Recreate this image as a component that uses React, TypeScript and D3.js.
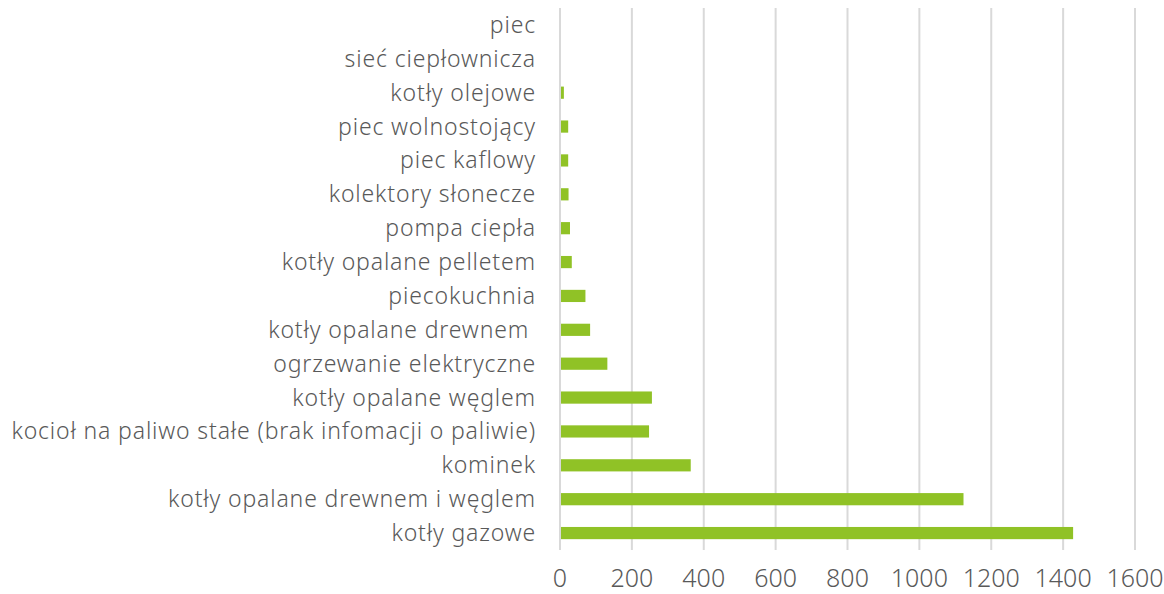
import React from 'react';
import * as d3 from 'd3';

// categories top -> bottom, as in the picture
const categories = [
  'piec',
  'sieć ciepłownicza',
  'kotły olejowe',
  'piec wolnostojący',
  'piec kaflowy',
  'kolektory słonecze',
  'pompa ciepła',
  'kotły opalane pelletem',
  'piecokuchnia',
  'kotły opalane drewnem ',
  'ogrzewanie elektryczne',
  'kotły opalane węglem',
  'kocioł na paliwo stałe (brak infomacji o paliwie)',
  'kominek',
  'kotły opalane drewnem i węglem',
  'kotły gazowe',
];
const values = [0, 0, 8, 20, 20, 21, 25, 30, 68, 81, 129, 253, 245, 361, 1120, 1425];
const xTicks = [0, 200, 400, 600, 800, 1000, 1200, 1400, 1600];

const W = 1164;
const H = 594;
const left = 560;
const right = 1135;
const top = 8;
const bottom = 550;
const font = '"Noto Sans", "DejaVu Sans", sans-serif';
const textColor = '#595959';

export default function App() {
  const x = d3.scaleLinear().domain([0, 1600]).range([left, right]);
  const y = d3.scaleBand<string>().domain(categories).range([top, bottom]).paddingInner(0.64).paddingOuter(0.32);

  return (
    <svg width={W} height={H} style={{ position: 'absolute', left: 0, top: 0 }}>
      <rect width={W} height={H} fill="#fff" />
      {xTicks.map(t => (
        <line key={t} x1={x(t)} x2={x(t)} y1={top} y2={bottom} stroke="#d9d9d9" strokeWidth={2} />
      ))}
      {categories.map((c, i) => (
        <rect
          key={c}
          x={x(0) + 1}
          y={y(c)}
          width={Math.max(0, x(values[i]) - x(0))}
          height={y.bandwidth()}
          fill="#90c226"
        />
      ))}
      {categories.map(c => (
        <text
          key={c}
          x={536}
          y={(y(c) ?? 0) + y.bandwidth() / 2}
          dy="0.35em"
          textAnchor="end"
          fontFamily={font}
          fontWeight={300}
          fontSize={23}
          letterSpacing={0.85}
          fill={textColor}
          style={{ whiteSpace: 'pre' }}
        >
          {c}
        </text>
      ))}
      {xTicks.map(t => (
        <text key={t} x={x(t)} y={587} textAnchor="middle" fontFamily={font} fontWeight={300} fontSize={25} fill={textColor}>
          {t}
        </text>
      ))}
    </svg>
  );
}
